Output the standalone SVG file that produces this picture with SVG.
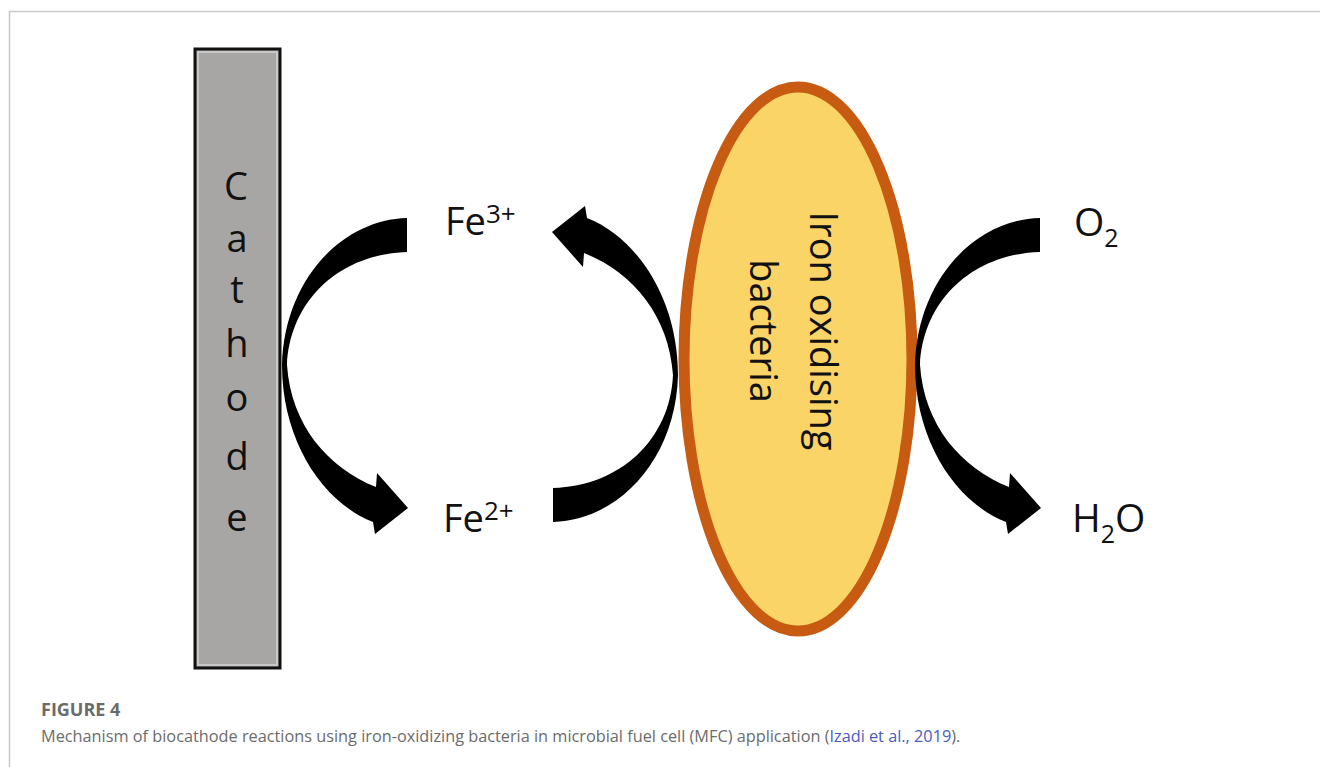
<svg xmlns="http://www.w3.org/2000/svg" xmlns:xlink="http://www.w3.org/1999/xlink" width="1320" height="767" viewBox="0 0 1320 767">
<style>
  .lbl { font-family: "Open Sans", "Liberation Sans", sans-serif; fill: #111; }
  .cap { font-family: "Open Sans", "Noto Sans", sans-serif; fill: #6b6b6b; }
  .arrow { fill: #000; }
</style>
<defs>
  <path id="carrow" d="M407,218 C340,220 284,282 282,365 C282,440 322,502 373,522 L375,534 L408,508 L377,473 L376,487 C328,468 291,425 287,365 C290,300 340,254 407,252 Z"/>
</defs>
<rect width="1320" height="767" fill="#fff"/>
<path d="M9.5,767 V11.5 H1320" fill="none" stroke="#c8c8c8" stroke-width="1.5"/>

<g id="cathode">
  <rect x="195" y="49" width="85" height="619" fill="#a8a6a4" stroke="#111" stroke-width="3"/>
  <rect x="198" y="52" width="79" height="613" fill="none" stroke="#d4d4d4" stroke-width="1.5"/>
  <g class="lbl" font-size="38" text-anchor="middle">
    <text x="236" y="200">C</text>
    <text x="237" y="252">a</text>
    <text x="237" y="303">t</text>
    <text x="237" y="357">h</text>
    <text x="237" y="411">o</text>
    <text x="237" y="470">d</text>
    <text x="237" y="531">e</text>
  </g>
</g>

<g id="bacteria">
  <ellipse cx="798" cy="359" rx="114" ry="272" fill="#fad466" stroke="#c75b12" stroke-width="11"/>
  <text class="lbl" font-size="38" text-anchor="middle" transform="translate(810,331) rotate(90)">Iron oxidising</text>
  <text class="lbl" font-size="38" text-anchor="middle" transform="translate(750,331) rotate(90)">bacteria</text>
</g>

<g id="fe3">
  <text class="lbl" x="445" y="235" font-size="38">Fe<tspan font-size="26" dy="-12">3+</tspan></text>
</g>
<g id="fe2">
  <text class="lbl" x="443" y="532" font-size="38">Fe<tspan font-size="26" dy="-12">2+</tspan></text>
</g>
<g id="o2">
  <text class="lbl" x="1074" y="236" font-size="39">O<tspan font-size="25" dy="11">2</tspan></text>
</g>
<g id="h2o">
  <text class="lbl" x="1072" y="532" font-size="39">H<tspan font-size="25" dy="11">2</tspan><tspan dy="-11">O</tspan></text>
</g>

<g id="connectors">
  <use xlink:href="#carrow" class="arrow"/>
  <use xlink:href="#carrow" class="arrow" transform="rotate(180,480,370)"/>
  <use xlink:href="#carrow" class="arrow" transform="translate(633,0)"/>
</g>

<g id="caption">
  <text class="cap" x="41" y="716" font-size="18" font-weight="bold">FIGURE 4</text>
  <text class="cap" x="41" y="742" font-size="16.3">Mechanism of biocathode reactions using iron-oxidizing bacteria in microbial fuel cell (MFC) application (<tspan fill="#4a5cc0">Izadi et al., 2019</tspan>).</text>
</g>
</svg>
